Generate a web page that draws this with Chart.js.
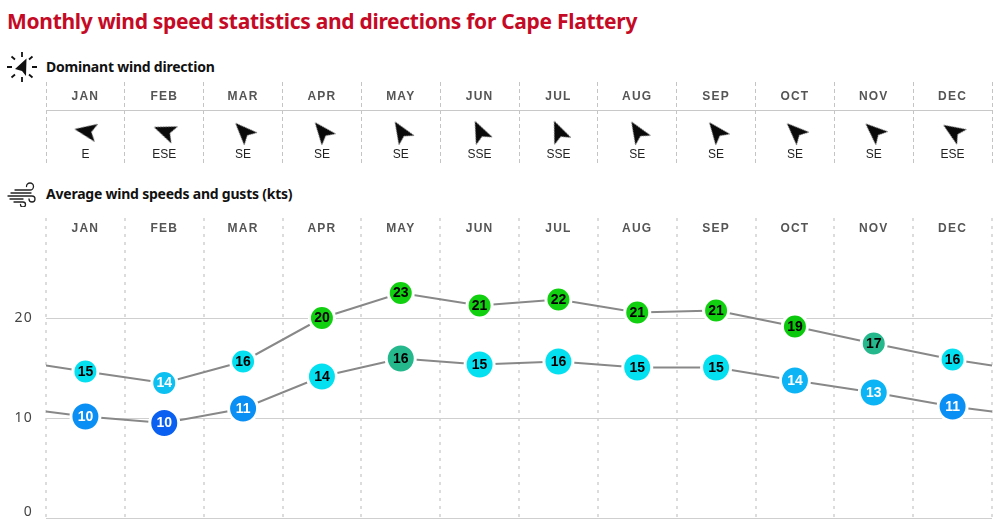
<!DOCTYPE html>
<html>
<head>
<meta charset="utf-8">
<title>Monthly wind speed statistics and directions for Cape Flattery</title>
<script src="https://cdn.jsdelivr.net/npm/chart.js@4/dist/chart.umd.min.js"></script>
<style>
    html, body { margin: 0; padding: 0; background: #fff; }
    body { position: relative; width: 1002px; height: 526px; overflow: hidden; font-family: "Noto Sans", sans-serif; }
    h1, h2 { position: absolute; margin: 0; white-space: nowrap; font-weight: 700; }
    h1 { left: 7px; top: 5px; font-size: 21px; line-height: 32px; letter-spacing: -0.3px; color: #c50a26; }
    h2 { left: 46px; font-size: 14px; line-height: 20px; letter-spacing: -0.22px; color: #111; }
    canvas { position: absolute; left: 0; }
    svg { position: absolute; }
</style>
</head>
<body>
<h1>Monthly wind speed statistics and directions for Cape Flattery</h1>

<svg style="left:6px;top:51px" width="32" height="32" viewBox="0 0 32 32" fill="none" stroke="#111" stroke-width="1.8">
    <path d="M16 1v5M16 26v5M1 16h5M26 16h5M5.5 5.5l3.500 3M26.500 5.500l-3.500 3M5.500 26.500l3.500-3M26.500 26.500l-3.500-3"/>
    <path d="M20.500 7.500L20 25L16 20L9 18Z" fill="#111" stroke="none"/>
</svg>
<h2 style="top:57px">Dominant wind direction</h2>
<canvas id="directionChart" style="top:75px" width="1002" height="95"></canvas>

<svg style="left:7px;top:182px" width="30" height="25" viewBox="0 0 30 25" fill="none" stroke="#222" stroke-width="1.300" stroke-linecap="round">
    <path d="M8 8h15a3.500 3.500 0 1 0-3.500-3.500"/>
    <path d="M4 11h20"/>
    <path d="M1 14h24a3 3 0 1 1-3 3"/>
    <path d="M3 17h13"/>
    <path d="M7 20h9a2.500 2.500 0 1 1-2.500 2.500"/>
</svg>
<h2 style="top:184px">Average wind speeds and gusts (kts)</h2>
<canvas id="speedChart" style="top:210px" width="1002" height="316"></canvas>

<script>
const months = ['JAN', 'FEB', 'MAR', 'APR', 'MAY', 'JUN', 'JUL', 'AUG', 'SEP', 'OCT', 'NOV', 'DEC'];
const directions = ['E', 'ESE', 'SE', 'SE', 'SE', 'SSE', 'SSE', 'SE', 'SE', 'SE', 'SE', 'ESE'];
const bearings = [280, 291, 316, 321, 328, 335, 337, 328, 322, 314, 312, 303];

const gustSpeeds = [14.65, 13.5, 15.65, 20, 22.5, 21.25, 21.85, 20.55, 20.75, 19.15, 17.45, 15.85];
const avgSpeeds = [10.15, 9.5, 10.95, 14.15, 15.95, 15.35, 15.65, 15.05, 15.05, 13.75, 12.55, 11.15];
// the lines carry on past the first and last month to the edge of the plot
const gustEdge = 15.25;
const avgEdge = 10.65;

const gustColors = ['#04e0f0', '#0cc0f2', '#04e0f0', '#10d010', '#10d010', '#10d010', '#10d010', '#10d010', '#10d010', '#0cc80c', '#24b88c', '#04e0f0'];
const avgColors = ['#0a90f5', '#0a60f0', '#0a90f5', '#04e0f0', '#24b88c', '#04e0f0', '#04e0f0', '#04e0f0', '#04e0f0', '#0cb4f5', '#0cb4f5', '#0a90f5'];
const gustTextColors = ['#000', '#fff', '#000', '#000', '#000', '#000', '#000', '#000', '#000', '#000', '#000', '#000'];
const avgTextColors = ['#fff', '#fff', '#fff', '#000', '#000', '#000', '#000', '#000', '#000', '#fff', '#fff', '#fff'];

const labelFont = '"Liberation Sans", Arial, sans-serif';

function monthAxis(dash, width, color, labelPadding) {
    return {
        type: 'linear',
        position: 'top',
        min: 0.5,
        max: 12.5,
        border: { display: false, dash: dash },
        grid: {
            drawTicks: false,
            lineWidth: width,
            color: ctx => (ctx.tick.value % 1 === 0.5 ? color : 'transparent')
        },
        ticks: {
            stepSize: 0.5,
            autoSkip: false,
            maxRotation: 0,
            mirror: true,
            padding: labelPadding,
            color: '#555',
            font: { family: labelFont, size: 12, weight: 'bold' },
            callback: v => (v % 1 === 0 ? months[v - 1] : '')
        },
        afterFit: scale => {
            scale.height = 0;
            scale.paddingLeft = 0;
            scale.paddingRight = 0;
        }
    };
}

function fitValueAxis(scale) {
    scale.width = 46;
    scale.paddingTop = 0;
    scale.paddingBottom = 0;
}

function withEdges(values, edge) {
    return [
        { x: 0.5, y: edge },
        ...values.map((v, i) => ({ x: i + 1, y: v })),
        { x: 12.5, y: edge }
    ];
}

function speedDataset(label, values, edge, colors, radius) {
    return {
        label: label,
        data: withEdges(values, edge),
        borderColor: '#888',
        borderWidth: 2,
        tension: 0,
        pointBackgroundColor: ctx => colors[ctx.dataIndex - 1],
        pointBorderColor: '#fff',
        pointBorderWidth: 3,
        pointRadius: ctx => (ctx.dataIndex === 0 || ctx.dataIndex === 13 ? 0 : radius)
    };
}

// month labels get the wide tracking of the original
const trackingPlugin = {
    id: 'tracking',
    beforeDraw: chart => { chart.ctx.letterSpacing = '1.2px'; },
    afterDatasetsDraw: chart => { chart.ctx.letterSpacing = '0px'; }
};

// rounded speed written inside each circle
const speedLabelPlugin = {
    id: 'speedLabels',
    afterDatasetsDraw: chart => {
        const ctx = chart.ctx;
        const sets = [[gustSpeeds, gustTextColors], [avgSpeeds, avgTextColors]];
        ctx.save();
        ctx.font = 'bold 14px ' + labelFont;
        ctx.textAlign = 'center';
        ctx.textBaseline = 'middle';
        sets.forEach(([values, textColors], s) => {
            values.forEach((v, i) => {
                const pt = chart.getDatasetMeta(s).data[i + 1];
                ctx.fillStyle = textColors[i];
                ctx.fillText(Math.round(v), pt.x, pt.y + 0.5);
            });
        });
        ctx.restore();
    }
};

// compass name under each arrow
const directionLabelPlugin = {
    id: 'directionLabels',
    afterDatasetsDraw: chart => {
        const ctx = chart.ctx;
        const xScale = chart.scales.x;
        const yScale = chart.scales.y;
        ctx.save();
        ctx.font = '12px ' + labelFont;
        ctx.fillStyle = '#222';
        ctx.textAlign = 'center';
        ctx.textBaseline = 'middle';
        directions.forEach((d, i) => {
            ctx.fillText(d, xScale.getPixelForValue(i + 1), yScale.getPixelForValue(-44) + 1);
        });
        ctx.restore();
    }
};

function makeArrow() {
    const c = document.createElement('canvas');
    c.width = 26;
    c.height = 26;
    const g = c.getContext('2d');
    g.fillStyle = '#0a0a0a';
    g.beginPath();
    g.moveTo(13, 2);
    g.lineTo(22, 24);
    g.lineTo(13, 19);
    g.lineTo(4, 24);
    g.closePath();
    g.fill();
    return c;
}

const arrow = makeArrow();

new Chart(document.getElementById('directionChart'), {
    type: 'scatter',
    data: {
        datasets: [{
            data: bearings.map((b, i) => ({ x: i + 1, y: -21 })),
            pointStyle: arrow,
            rotation: bearings,
            showLine: false
        }]
    },
    options: {
        responsive: false,
        animation: false,
        devicePixelRatio: 1,
        layout: { autoPadding: false, padding: { top: 7, right: 10, bottom: 7 } },
        plugins: { legend: { display: false }, tooltip: { enabled: false } },
        scales: {
            x: monthAxis([4, 3], 1, '#c4c4c4', 7),
            y: {
                min: -53,
                max: 28,
                border: { display: false },
                grid: { drawTicks: false, color: '#c8c8c8' },
                ticks: { display: false },
                afterBuildTicks: scale => { scale.ticks = [{ value: 0 }]; },
                afterFit: fitValueAxis
            }
        }
    },
    plugins: [trackingPlugin, directionLabelPlugin]
});

new Chart(document.getElementById('speedChart'), {
    type: 'line',
    data: {
        datasets: [
            speedDataset('Gusts', gustSpeeds, gustEdge, gustColors, 12.5),
            speedDataset('Average', avgSpeeds, avgEdge, avgColors, 14.5)
        ]
    },
    options: {
        responsive: false,
        animation: false,
        devicePixelRatio: 1,
        layout: { autoPadding: false, padding: { top: 8, right: 10, bottom: 8 } },
        plugins: { legend: { display: false }, tooltip: { enabled: false } },
        scales: {
            x: monthAxis([3, 5], 2, '#dcdcdc', 3),
            y: {
                min: 0,
                max: 30,
                border: { display: false },
                grid: {
                    drawTicks: false,
                    color: ctx => (ctx.tick.value === 30 ? 'transparent' : '#cfcfcf')
                },
                ticks: {
                    stepSize: 10,
                    padding: 13,
                    color: '#444',
                    font: { family: '"Noto Sans", sans-serif', size: 14, lineHeight: 0.9 },
                    // the zero sits just above the baseline
                    callback: v => (v === 30 ? '' : v === 0 ? ['0', ''] : String(v))
                },
                afterFit: fitValueAxis
            }
        }
    },
    plugins: [trackingPlugin, speedLabelPlugin]
});
</script>
</body>
</html>
